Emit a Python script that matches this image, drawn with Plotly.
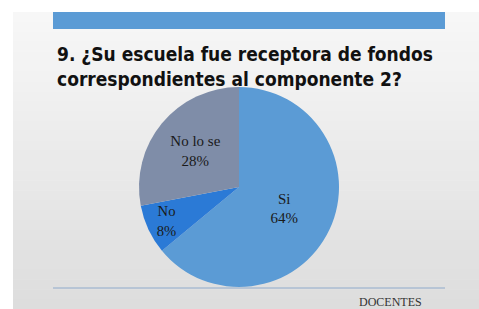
import plotly.graph_objects as go

categories = ["Si", "No", "No lo se"]
values = [64, 8, 28]
colors = ["#5B9BD5", "#2B7AD6", "#7F8DA8"]
title_text = "9. ¿Su escuela fue receptora de fondos<br>correspondientes al componente 2?"
footer_text = "DOCENTES"

W, H = 479, 309
fig = go.Figure()

# pie placement (pixels -> paper)
cx, cy, r = 239, 187, 100
fig.add_trace(go.Pie(
    labels=categories, values=values, sort=False, direction="clockwise", rotation=0,
    marker=dict(colors=colors, line=dict(width=0)),
    texttemplate="%{label}<br>%{percent:.0%}",
    textposition="inside", insidetextorientation="horizontal",
    textfont=dict(family="Liberation Serif", size=15, color="#1a1a1a"),
    domain=dict(x=[(cx - r) / W, (cx + r) / W], y=[(H - cy - r) / H, (H - cy + r) / H]),
    showlegend=False, hoverinfo="label+percent",
))

shapes = []
# background gradient (slide)
n = 30
y0, y1 = 12, H
for i in range(n):
    t = i / (n - 1)
    g = int(round(247 - (247 - 221) * t))
    ya = y0 + (y1 - y0) * i / n
    yb = y0 + (y1 - y0) * (i + 1) / n + 0.5
    shapes.append(dict(type="rect", xref="paper", yref="paper", layer="below",
                       x0=13 / W, x1=1, y0=1 - yb / H, y1=1 - ya / H,
                       fillcolor=f"rgb({g},{g},{g})", line=dict(width=0)))
# blue top bar
shapes.append(dict(type="rect", xref="paper", yref="paper", layer="below",
                   x0=53 / W, x1=445 / W, y0=1 - 29 / H, y1=1 - 12 / H,
                   fillcolor="#5B9BD5", line=dict(width=0)))
# bottom rule
shapes.append(dict(type="line", xref="paper", yref="paper", layer="below",
                   x0=53 / W, x1=445 / W, y0=1 - 288 / H, y1=1 - 288 / H,
                   line=dict(color="#8FAACB", width=1)))

annotations = [
    dict(text="<b>" + title_text + "</b>", xref="paper", yref="paper",
         x=55 / W, y=1 - 41 / H, xanchor="left", yanchor="top", align="left", showarrow=False,
         font=dict(family="DejaVu Sans Condensed", size=19, color="#111111")),
    dict(text=footer_text, xref="paper", yref="paper",
         x=390 / W, y=1 - 293 / H, xanchor="center", yanchor="top", showarrow=False,
         font=dict(family="Liberation Serif", size=12, color="#333333")),
]

fig.update_layout(
    width=W, height=H, margin=dict(l=0, r=0, t=0, b=0),
    paper_bgcolor="white", plot_bgcolor="white",
    shapes=shapes, annotations=annotations,
)
fig.write_html("out.html", config={"displayModeBar": False},
               post_script="document.body.style.margin='0';document.body.style.overflow='hidden';")
